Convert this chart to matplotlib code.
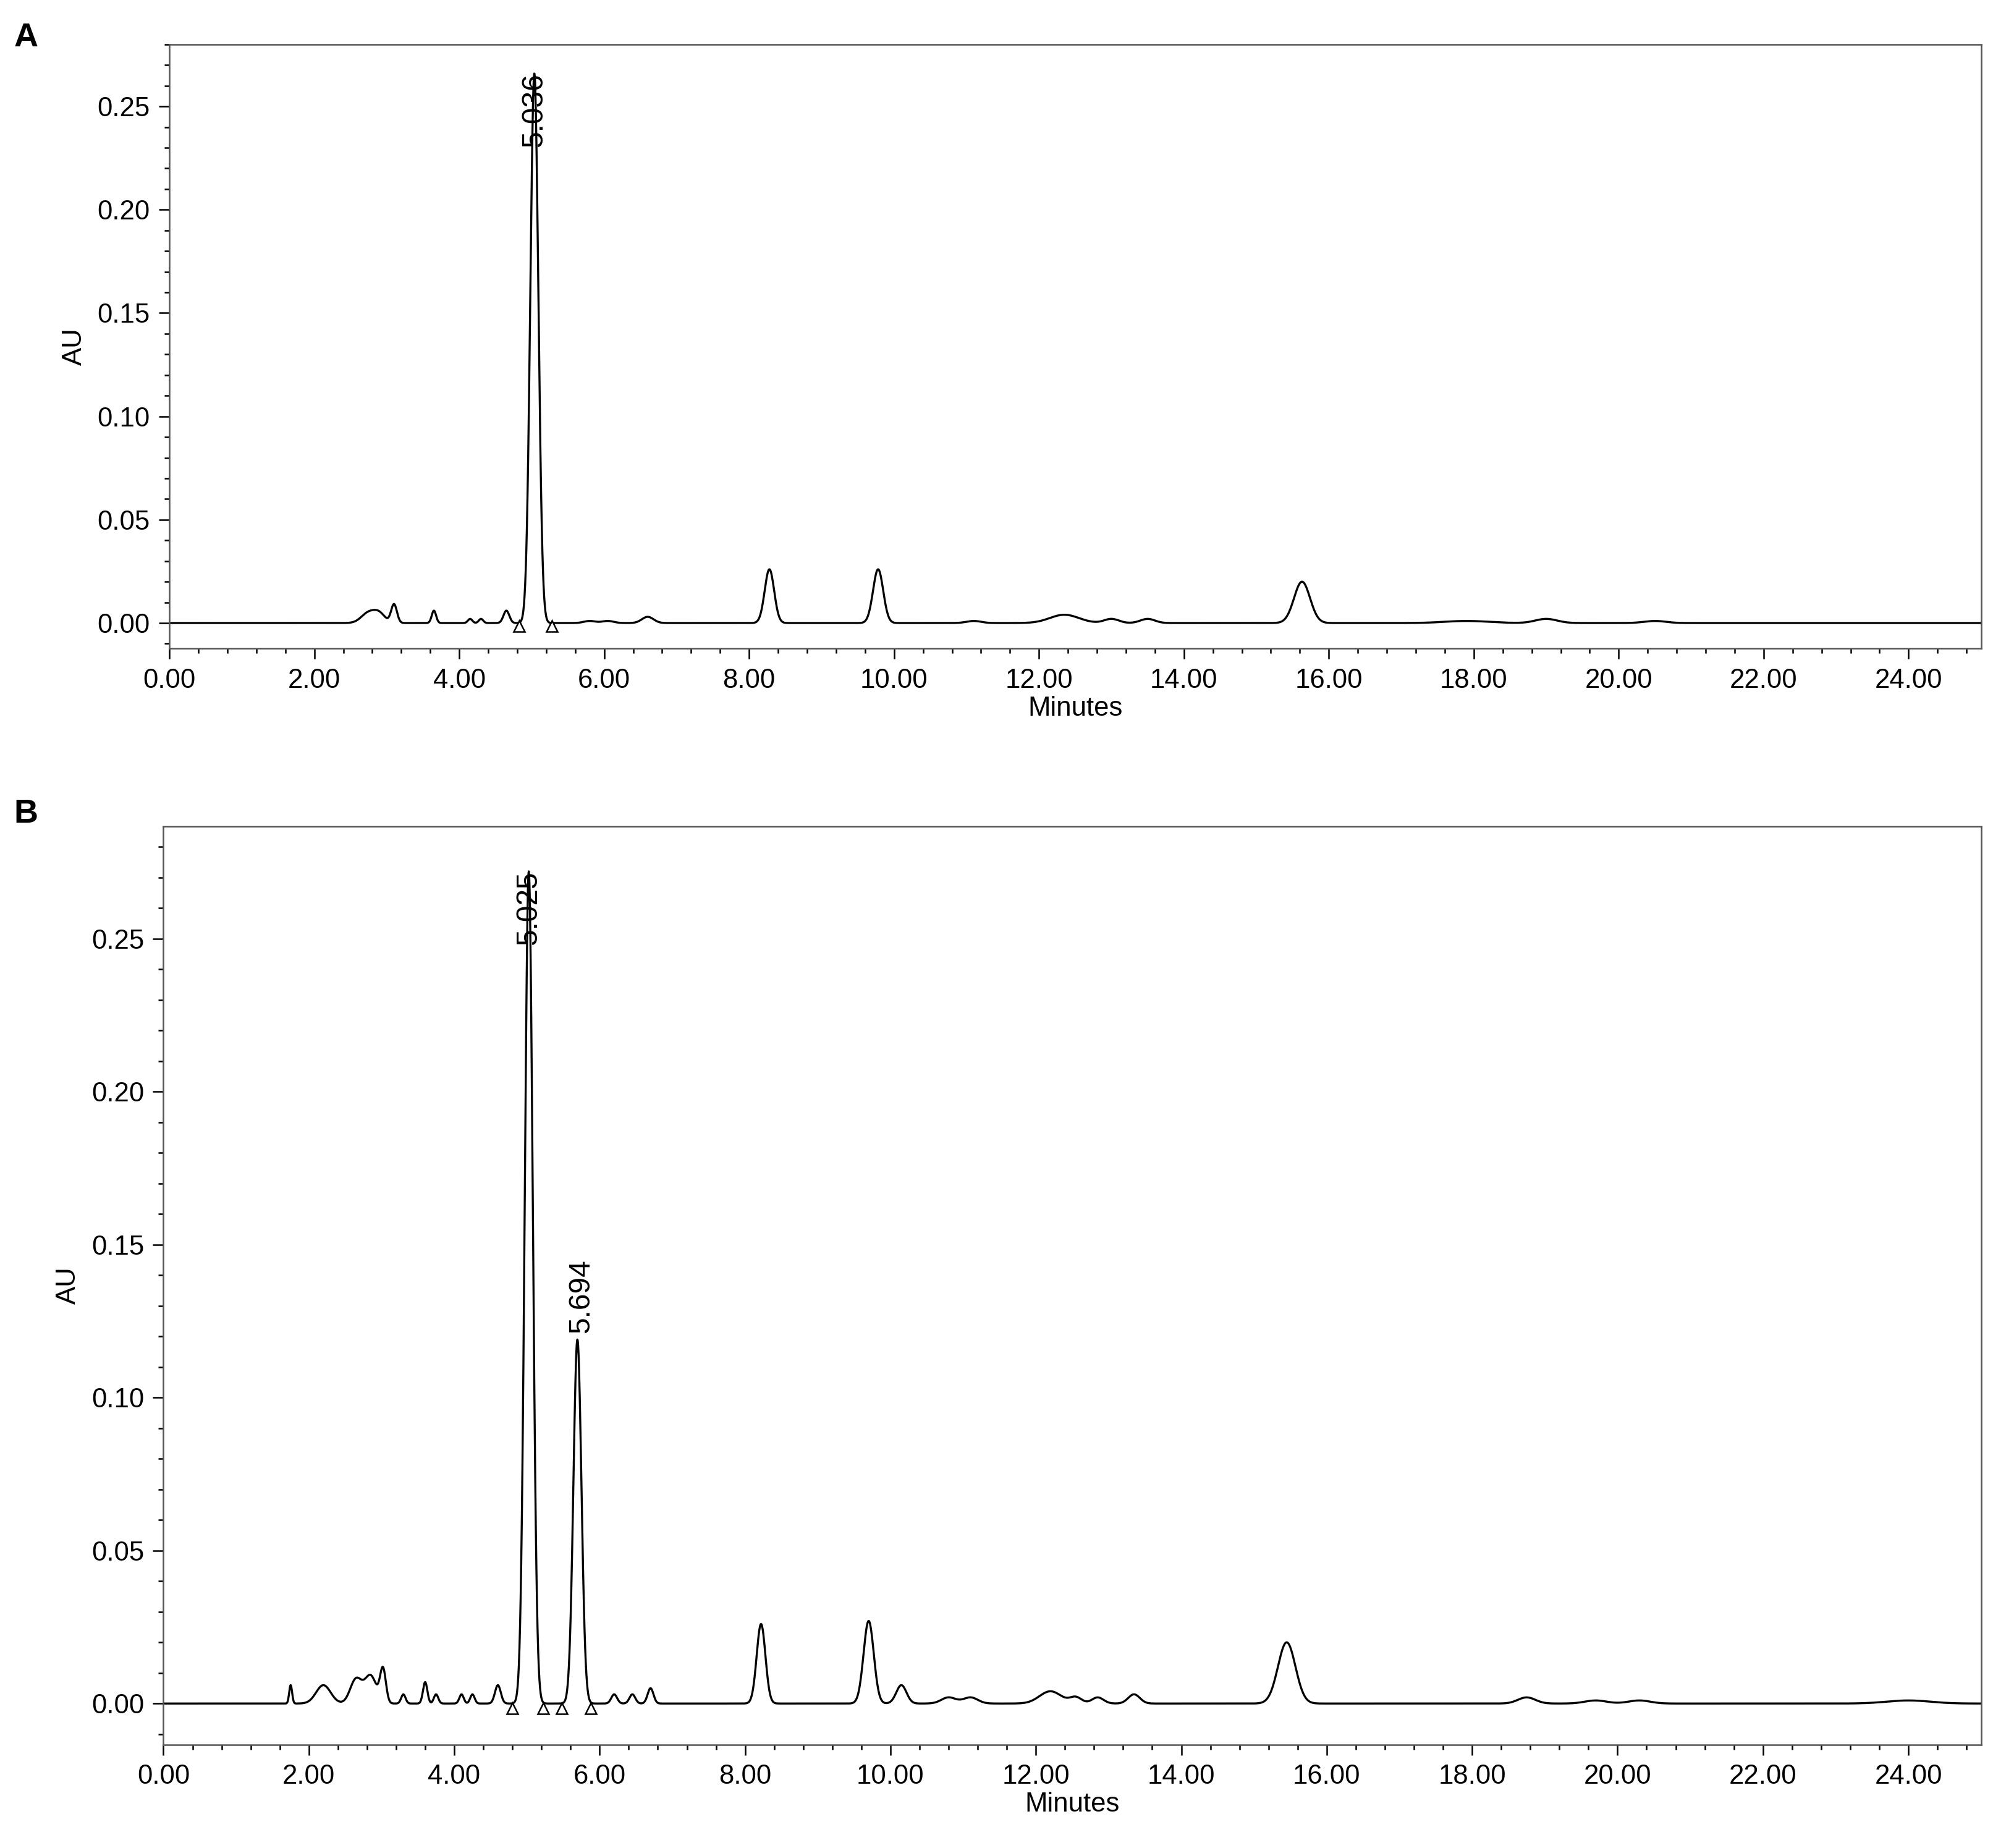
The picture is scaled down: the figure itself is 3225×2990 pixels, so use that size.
import matplotlib
matplotlib.use("Agg")
import matplotlib.pyplot as plt
import numpy as np
from matplotlib.ticker import MultipleLocator

plt.rcParams["font.family"] = ["Liberation Sans", "DejaVu Sans"]

# Peak tables: retention time (min), height (AU), width (min)
a_rt = [2.75, 2.9, 3.1, 3.65, 4.15, 4.3, 4.65, 5.036, 5.8, 6.05, 6.6, 8.28, 9.78, 11.1, 12.35, 13.0, 13.5, 15.63, 17.9, 19.0, 20.5]
a_height = [0.005, 0.004, 0.009, 0.006, 0.002, 0.002, 0.006, 0.266, 0.001, 0.001, 0.003, 0.026, 0.026, 0.001, 0.004, 0.002, 0.002, 0.020, 0.001, 0.002, 0.001]
a_width = [0.1, 0.08, 0.04, 0.03, 0.03, 0.03, 0.04, 0.055, 0.08, 0.08, 0.08, 0.065, 0.07, 0.1, 0.2, 0.1, 0.1, 0.11, 0.3, 0.15, 0.15]
a_marks = [4.83, 5.28]
# label: x, y, text, vertical alignment
a_labels = [(5.036, 0.266, "5.036", "top")]

b_rt = [1.75, 2.2, 2.65, 2.85, 3.02, 3.3, 3.6, 3.75, 4.1, 4.25, 4.6, 5.025, 5.694, 6.2, 6.45, 6.7, 8.22, 9.7, 10.15, 10.8, 11.1, 12.2, 12.55, 12.85, 13.35, 15.45, 18.75, 19.7, 20.3, 24.0]
b_height = [0.006, 0.006, 0.008, 0.009, 0.011, 0.003, 0.007, 0.003, 0.003, 0.003, 0.006, 0.272, 0.119, 0.003, 0.003, 0.005, 0.026, 0.027, 0.006, 0.002, 0.002, 0.004, 0.002, 0.002, 0.003, 0.020, 0.002, 0.001, 0.001, 0.001]
b_width = [0.02, 0.1, 0.08, 0.08, 0.04, 0.03, 0.03, 0.03, 0.03, 0.03, 0.04, 0.055, 0.055, 0.04, 0.04, 0.04, 0.06, 0.07, 0.07, 0.1, 0.1, 0.15, 0.08, 0.08, 0.08, 0.12, 0.12, 0.15, 0.15, 0.3]
b_marks = [4.8, 5.22, 5.48, 5.88]
b_labels = [(5.025, 0.272, "5.025", "top"), (5.75, 0.121, "5.694", "bottom")]


def trace(t, rt, height, width):
    y = np.zeros_like(t)
    for r, h, w in zip(rt, height, width):
        y += h * np.exp(-0.5 * ((t - r) / w) ** 2)
    return y


def draw(ax, rt, height, width, marks, labels, ylim):
    t = np.linspace(0, 25, 6000)
    ax.plot(t, trace(t, rt, height, width), color="black", lw=0.8)
    ax.plot(marks, np.full(len(marks), -0.0015), ls="none", marker="^",
            mfc="white", mec="black", ms=4.5, mew=0.6)
    for x, h, txt, va in labels:
        ax.text(x, h, txt, rotation=90, ha="center", va=va, fontsize=11.5)
    ax.set_xlim(0, 25)
    ax.set_ylim(*ylim)
    ax.xaxis.set_major_locator(MultipleLocator(2))
    ax.xaxis.set_minor_locator(MultipleLocator(0.4))
    ax.yaxis.set_major_locator(MultipleLocator(0.05))
    ax.yaxis.set_minor_locator(MultipleLocator(0.01))
    ax.xaxis.set_major_formatter(lambda v, p: f"{v:.2f}")
    ax.yaxis.set_major_formatter(lambda v, p: f"{v:.2f}")
    ax.tick_params(which="both", direction="out", labelsize=10.5, width=0.6)
    ax.tick_params(which="major", length=4)
    ax.tick_params(which="minor", length=2)
    for s in ax.spines.values():
        s.set_linewidth(0.6)
        s.set_color("#555555")
    ax.set_xlabel("Minutes", fontsize=10.5, labelpad=1)
    ax.set_ylabel("AU", fontsize=10.5)


fig = plt.figure(figsize=(10.75, 9.9667), dpi=300)
ax_a = fig.add_axes([0.085, 0.649, 0.909, 0.327])
ax_b = fig.add_axes([0.082, 0.056, 0.912, 0.497])
draw(ax_a, a_rt, a_height, a_width, a_marks, a_labels, (-0.0124, 0.280))
draw(ax_b, b_rt, b_height, b_width, b_marks, b_labels, (-0.0134, 0.2868))
fig.text(0.007, 0.975, "A", fontsize=13, fontweight="bold")
fig.text(0.007, 0.555, "B", fontsize=13, fontweight="bold")
fig.savefig("out.png", dpi=300)
